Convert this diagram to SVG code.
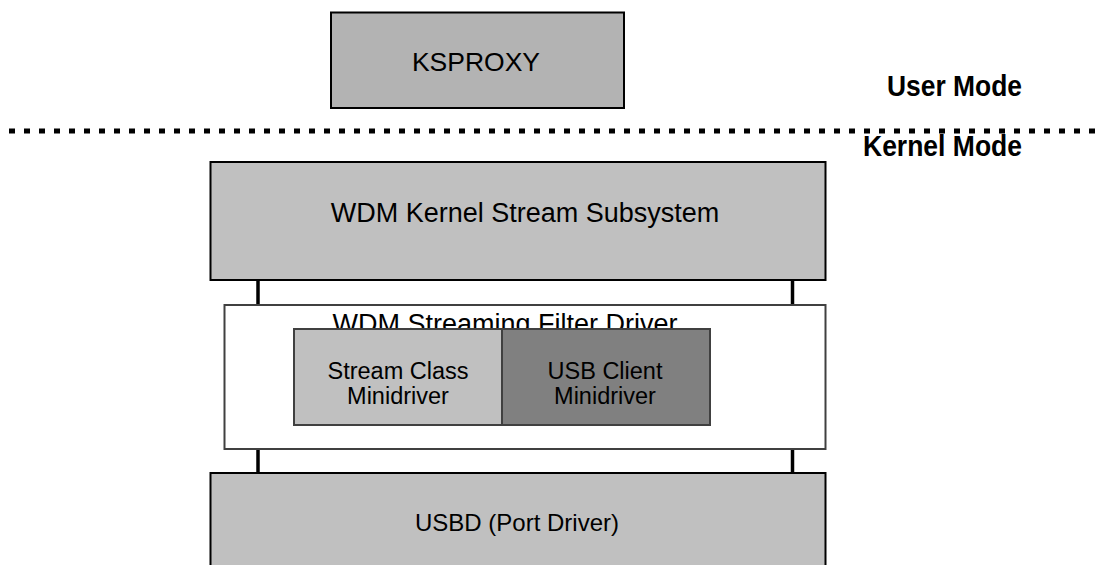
<svg xmlns="http://www.w3.org/2000/svg" width="1098" height="565" viewBox="0 0 1098 565">
<style>
.box{stroke:#000;stroke-width:2}
.t{font-family:"Liberation Sans",Arial,sans-serif;fill:#000;text-anchor:middle}
.b{font-family:"Liberation Sans",Arial,sans-serif;font-weight:bold;fill:#000}
.conn{stroke:#000;stroke-width:3.5;fill:none}
</style>
<rect width="1098" height="565" fill="#fff"/>
<line x1="0" y1="131" x2="1098" y2="131" stroke="#000" stroke-width="5" stroke-dasharray="6 9" stroke-dashoffset="6"/>
<g id="user-mode"><text class="b" x="887" y="96" font-size="29" textLength="135" lengthAdjust="spacingAndGlyphs">User Mode</text></g>
<g id="kernel-mode"><text class="b" x="863" y="156" font-size="30" textLength="159" lengthAdjust="spacingAndGlyphs">Kernel Mode</text></g>
<g id="ksproxy">
<rect class="box" x="331" y="12.5" width="293" height="95.5" fill="#b3b3b3"/>
<text class="t" x="476" y="71" font-size="26.5">KSPROXY</text>
</g>
<g id="connectors">
<line class="conn" x1="258" y1="280" x2="258" y2="305"/>
<line class="conn" x1="792.5" y1="280" x2="792.5" y2="305"/>
<line class="conn" x1="258" y1="449" x2="258" y2="473"/>
<line class="conn" x1="792.5" y1="449" x2="792.5" y2="473"/>
</g>
<g id="ks-subsystem">
<rect class="box" x="210.5" y="162" width="615" height="118" fill="#c0c0c0"/>
<text class="t" x="525" y="222" font-size="27">WDM Kernel Stream Subsystem</text>
</g>
<g id="filter-driver">
<rect x="224.5" y="305" width="601" height="144" fill="#fff" stroke="#404040" stroke-width="2"/>
<text class="t" x="505" y="333" font-size="27">WDM Streaming Filter Driver</text>
</g>
<g id="stream-class">
<rect x="294" y="329" width="208" height="96" fill="#c0c0c0" stroke="#404040" stroke-width="2"/>
<text class="t" x="398" y="379" font-size="23.5">Stream Class</text>
<text class="t" x="398" y="404" font-size="23.5">Minidriver</text>
</g>
<g id="usb-client">
<rect x="502" y="329" width="208" height="96" fill="#808080" stroke="#404040" stroke-width="2"/>
<text class="t" x="605" y="379" font-size="23.5">USB Client</text>
<text class="t" x="605" y="404" font-size="23.5">Minidriver</text>
</g>
<g id="usbd">
<rect class="box" x="210.5" y="473" width="615" height="100" fill="#c0c0c0"/>
<text class="t" x="517" y="531" font-size="24">USBD (Port Driver)</text>
</g>
</svg>
